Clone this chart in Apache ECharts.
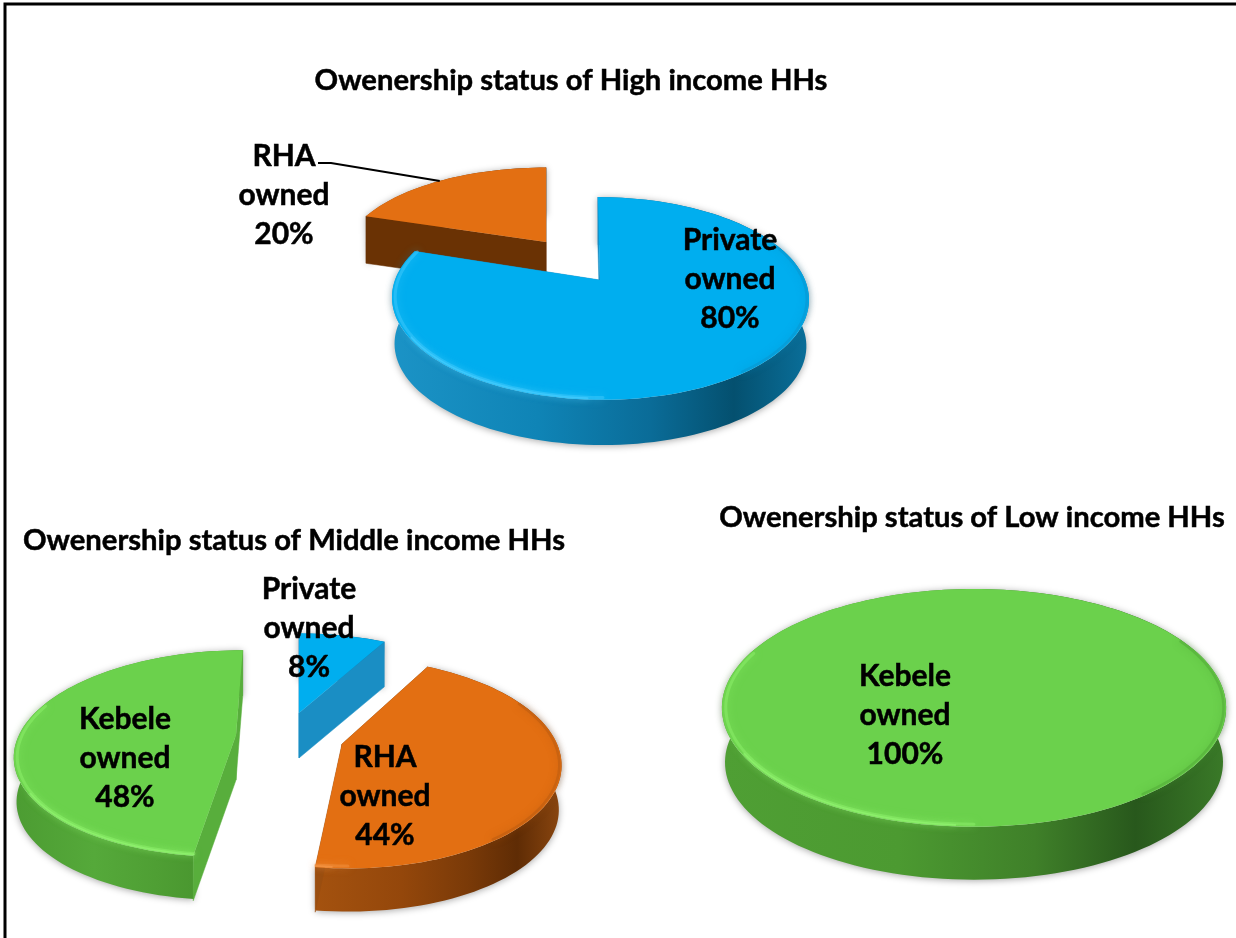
<!DOCTYPE html>
<html>
<head>
<meta charset="utf-8">
<style>html,body{margin:0;padding:0;background:#fff}#chart{width:1236px;height:938px}</style>
<script src="https://cdn.jsdelivr.net/npm/echarts@6/dist/echarts.min.js"></script>
</head>
<body>
<div id="chart"></div>
<script>
// Ownership shares per income group, in percent
const highCategories = ['Private owned', 'RHA owned'];
const highShares = [80, 20];
const middleCategories = ['Private owned', 'RHA owned', 'Kebele owned'];
const middleShares = [8, 44, 48];
const lowCategories = ['Kebele owned'];
const lowShares = [100];
const chartTitles = [
  'Owenership status of High income HHs',
  'Owenership status of Middle income HHs',
  'Owenership status of Low income HHs'
];

const FONT = 'Lato, Carlito, sans-serif';

// Colour ramps for the three owner types
const palette = {
  'Private owned': { top: '#00aeef', rim: '#4fd0ff', edge: '#0a93cc', wall: ['#1b93c6', '#0f84b6', '#0a6c98', '#04506f', '#0a6f9a'], cut: '#1a8ec4' },
  'RHA owned': { top: '#e36f12', rim: '#f59a4e', edge: '#b85a10', wall: ['#a4520f', '#94470b', '#7a3a08', '#5f2c05', '#8a460f'], cut: '#6a3204' },
  'Kebele owned': { top: '#6bd14c', rim: '#96f874', edge: '#4fa836', wall: ['#4f9f34', '#4c9a31', '#3f8029', '#28581c', '#3a7a28'], cut: '#58ae3c' }
};

// Projected disc geometry: apex of each wedge, radii, shear, perspective and wall height
const pieLayouts = [
  {
    categories: highCategories, shares: highShares, depth: 47, k: 0.182,
    slices: [
      { apex: [600, 280], rx: 205, ry: 98, shear: 2.5, z: 20, label: [730, 279] },
      { apex: [546, 242], rx: 200, ry: 88, shear: 0, z: 10, label: [284, 195], leader: { from: [318, 163], via: [331, 163], at: 0.48 } }
    ]
  },
  {
    categories: middleCategories, shares: middleShares, depth: 45, k: 0.18,
    slices: [
      { apex: [299, 713], rx: 205, ry: 94, shear: 0, z: 10, label: [309, 628] },
      { apex: [342, 744], rx: 215, ry: 102, shear: 5, z: 10, label: [385, 796], cut: '#9a4e10' },
      { apex: [236, 735], rx: 217, ry: 100, shear: -8, z: 10, label: [125, 758], wall: ['#4c9c32', '#55a93a', '#4f9f34', '#49962f', '#4a9a30'] }
    ]
  },
  {
    categories: lowCategories, shares: lowShares, depth: 55, k: 0.18,
    slices: [
      { apex: [974, 686.5], rx: 248, ry: 115, shear: 0, z: 10, label: [905, 715] }
    ]
  }
];

// Point on a wedge rim: angle runs clockwise from 12 o'clock
function rimPoint(slice, k, angle, scale, drop) {
  const u = Math.sin(angle) * scale;
  const v = -Math.cos(angle) * scale;
  const s = 1 / (1 - k * v);
  return [
    slice.apex[0] + slice.rx * u * s + slice.shear * v * s,
    slice.apex[1] + slice.ry * v * s + (drop || 0)
  ];
}

function arcPoints(slice, k, from, to, scale, drop) {
  const steps = Math.max(4, Math.ceil((to - from) / (Math.PI / 90)));
  const pts = [];
  for (let i = 0; i <= steps; i++) {
    pts.push(rimPoint(slice, k, from + (to - from) * i / steps, scale, drop));
  }
  return pts;
}

function ramp(stops) {
  return new echarts.graphic.LinearGradient(0, 0, 1, 0, stops.map(function (c, i) {
    return { offset: [0, 0.35, 0.62, 0.82, 1][i], color: c };
  }));
}

function quad(a, b, depth, fill, z) {
  return {
    type: 'polygon', z2: z,
    shape: { points: [a, b, [b[0], b[1] + depth], [a[0], a[1] + depth]] },
    style: { fill: fill, stroke: fill, lineWidth: 0.5 }
  };
}

// Rim stroke over a limited angular range, skipped when it misses the wedge
function rimStroke(slice, k, start, end, from, to, scale, color, width, opacity, blur, z) {
  const a = Math.max(start, from);
  const b = Math.min(end, to);
  if (b <= a) { return null; }
  return {
    type: 'polyline', z2: z,
    shape: { points: arcPoints(slice, k, a, b, scale, 0) },
    style: { fill: 'none', stroke: color, lineWidth: width, opacity: opacity, shadowBlur: blur, shadowColor: color, lineCap: 'round' }
  };
}

function renderWedge(pie) {
  return function (params, api) {
    const i = params.dataIndex;
    const slice = pie.slices[i];
    const name = pie.categories[i];
    const colors = palette[name];
    const total = pie.shares.reduce(function (a, b) { return a + b; }, 0);
    const before = pie.shares.slice(0, i).reduce(function (a, b) { return a + b; }, 0);
    const value = api.value(0);
    const start = before / total * Math.PI * 2;
    const end = (before + value) / total * Math.PI * 2;
    const full = value === total;
    const k = pie.k;
    const z = slice.z;
    const children = [];

    // Outer wall: top rim plus a slightly narrower bottom rim
    const topArc = arcPoints(slice, k, start, end, 1, 0);
    const lowArc = arcPoints(slice, k, start, end, 0.988, pie.depth);
    children.push({
      type: 'polygon', z2: z,
      shape: { points: topArc.concat(lowArc.slice().reverse()) },
      style: { fill: ramp(slice.wall || colors.wall), shadowBlur: 7, shadowColor: 'rgba(0,0,0,0.35)', shadowOffsetY: 1 }
    });

    // Cut faces of an open wedge
    if (!full) {
      const cut = slice.cut || colors.cut;
      children.push(quad(slice.apex, rimPoint(slice, k, start, 1, 0), pie.depth, cut, z + 1));
      children.push(quad(slice.apex, rimPoint(slice, k, end, 1, 0), pie.depth, cut, z + 1));
    }

    // Top face
    children.push({
      type: 'polygon', z2: z + 2,
      shape: { points: full ? topArc : [slice.apex].concat(topArc) },
      style: { fill: colors.top }
    });

    // Soft bevel: light on the front-left rim, darker on the lower right
    [
      rimStroke(slice, k, start, end, Math.PI * 1.0, Math.PI * 1.6, 0.985, colors.rim, 3, 0.4, 8, z + 3),
      rimStroke(slice, k, start, end, Math.PI * 1.02, Math.PI * 1.32, 0.992, colors.rim, 2, 0.55, 6, z + 3),
      rimStroke(slice, k, start, end, Math.PI * 0.36, Math.PI * 0.8, 0.99, colors.edge, 2.5, 0.5, 7, z + 3)
    ].forEach(function (el) { if (el) { children.push(el); } });

    // Leader from an outside label to the wedge rim
    if (slice.leader) {
      const tip = rimPoint(slice, k, start + (end - start) * slice.leader.at, 1, 0);
      children.push({
        type: 'polyline', z2: 90,
        shape: { points: [slice.leader.from, slice.leader.via, tip] },
        style: { fill: 'none', stroke: '#000', lineWidth: 2 }
      });
    }

    // Category and share
    children.push({
      type: 'text', z2: 100,
      x: slice.label[0], y: slice.label[1],
      style: {
        text: name.split(' ').concat(value + '%').join('\n'),
        font: 'bold 30px ' + FONT, fill: '#000',
        stroke: '#000', lineWidth: 0.5,
        align: 'center', verticalAlign: 'middle', lineHeight: 39
      }
    });
    return { type: 'group', children: children };
  };
}

const titlePositions = [[571, 64], [294, 524], [972, 501]];

const chart = echarts.init(document.getElementById('chart'), null, { renderer: 'canvas' });
chart.setOption({
  backgroundColor: '#fff',
  animation: false,
  title: chartTitles.map(function (text, i) {
    return {
      text: text, left: titlePositions[i][0], top: titlePositions[i][1], textAlign: 'center',
      padding: 0,
      textStyle: { fontFamily: FONT, fontWeight: 'bold', fontSize: 29.2, color: '#000', lineHeight: 34, textBorderColor: '#000', textBorderWidth: 0.5 }
    };
  }),
  graphic: [{
    type: 'polyline', z: 200,
    shape: { points: [[5, 938], [5, 4], [1236, 4]] },
    style: { fill: 'none', stroke: '#000', lineWidth: 3 }
  }],
  series: pieLayouts.map(function (pie, n) {
    return {
      type: 'custom',
      name: chartTitles[n],
      coordinateSystem: 'none',
      silent: true,
      renderItem: renderWedge(pie),
      data: pie.shares.map(function (v) { return [v]; })
    };
  })
});
</script>
</body>
</html>
